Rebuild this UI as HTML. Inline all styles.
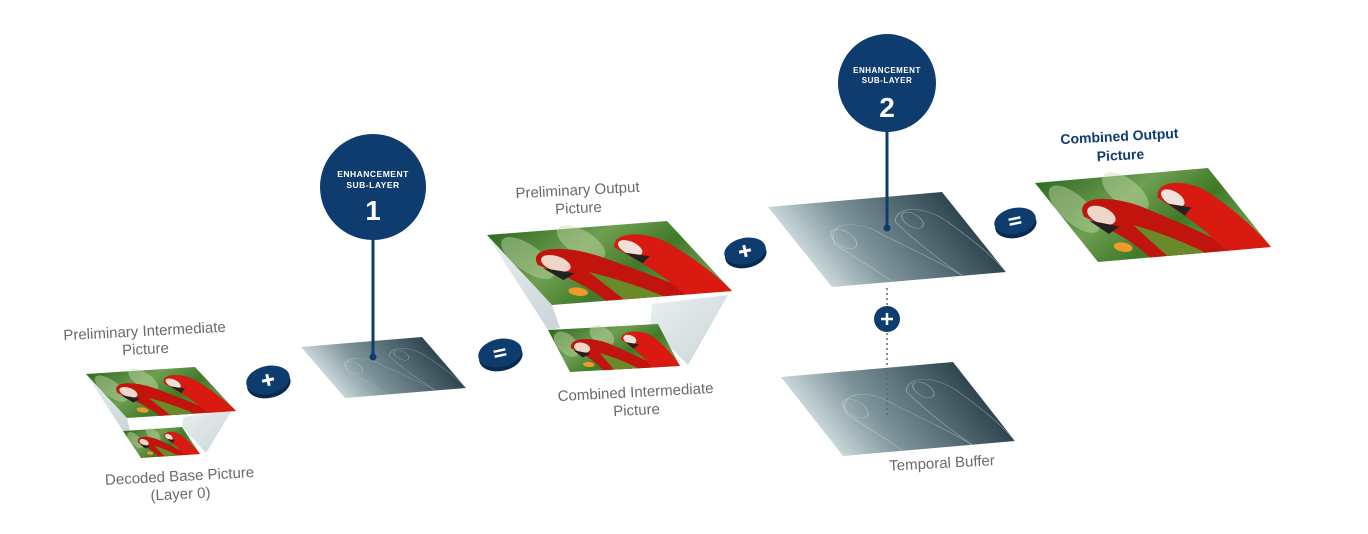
<!DOCTYPE html>
<html><head><meta charset="utf-8"><style>
html,body{margin:0;padding:0;background:#fff}
svg{display:block}
.lbl{font-family:"Liberation Sans",sans-serif;font-size:15px;fill:#6a6a6a;text-anchor:middle}
.blu{font-family:"Liberation Sans",sans-serif;font-size:14px;fill:#0e3c6e;font-weight:bold;text-anchor:middle}
.ct{font-family:"Liberation Sans",sans-serif;fill:#fff;font-weight:bold;text-anchor:middle}
</style></head><body>
<svg width="1368" height="534" viewBox="0 0 1368 534" xmlns="http://www.w3.org/2000/svg">
<defs>
<linearGradient id="bg" x1="0" y1="0" x2="1" y2="1">
<stop offset="0" stop-color="#2f6a22"/><stop offset="0.35" stop-color="#6e9f50"/><stop offset="0.6" stop-color="#3f7a28"/><stop offset="1" stop-color="#7fae5e"/>
</linearGradient>
<linearGradient id="gr" x1="0" y1="0" x2="1" y2="0">
<stop offset="0" stop-color="#c9d6d9"/><stop offset="0.35" stop-color="#7d939a"/><stop offset="1" stop-color="#2f4650"/>
</linearGradient>
<linearGradient id="face" x1="0" y1="0" x2="1" y2="1">
<stop offset="0" stop-color="#e9eff0"/><stop offset="1" stop-color="#c9d5d8"/>
</linearGradient>
<g id="parrot">
<rect x="0" y="0" width="1" height="1" fill="url(#bg)"/>
<ellipse cx="0.1" cy="0.35" rx="0.1" ry="0.3" fill="#b9d2a0" opacity="0.5"/>
<ellipse cx="0.45" cy="0.2" rx="0.1" ry="0.25" fill="#c7dcb0" opacity="0.45"/>
<ellipse cx="0.2" cy="0.85" rx="0.05" ry="0.06" fill="#f09a2a"/>
<path d="M0.12 0.45 C0.15 0.2 0.35 0.2 0.48 0.4 C0.6 0.6 0.72 0.8 0.8 1 L0.3 1 C0.28 0.8 0.22 0.65 0.12 0.45Z" fill="#c0140c"/>
<path d="M0.35 0.6 C0.45 0.7 0.55 0.85 0.62 1 L0.4 1Z" fill="#6a8a2a"/>
<ellipse cx="0.22" cy="0.45" rx="0.07" ry="0.12" fill="#eed7c8"/>
<path d="M0.13 0.5 L0.18 0.68 L0.27 0.6Z" fill="#222"/>
<path d="M0.6 0.3 C0.66 0.08 0.85 0.1 0.9 0.3 C0.96 0.5 1 0.8 1 1 L0.74 1 C0.72 0.7 0.66 0.5 0.6 0.3Z" fill="#d81a10"/>
<ellipse cx="0.68" cy="0.32" rx="0.055" ry="0.11" fill="#f0e2d8"/>
<path d="M0.63 0.38 L0.67 0.54 L0.74 0.45Z" fill="#222"/>
</g>
<g id="sketch">
<rect x="0" y="0" width="1" height="1" fill="url(#gr)"/>
<g fill="none" stroke="#dfe8ea" stroke-width="0.004" opacity="0.6">
<path d="M0.2 0.5 C0.25 0.2 0.45 0.25 0.5 0.45 C0.6 0.65 0.7 0.85 0.75 1"/>
<path d="M0.2 0.5 C0.25 0.7 0.3 0.8 0.35 1"/>
<ellipse cx="0.27" cy="0.45" rx="0.06" ry="0.12"/>
<path d="M0.62 0.3 C0.7 0.1 0.85 0.15 0.9 0.35 C0.95 0.55 1 0.8 1 1"/>
<path d="M0.62 0.3 C0.65 0.6 0.7 0.8 0.75 1"/>
<ellipse cx="0.72" cy="0.3" rx="0.05" ry="0.1"/>
</g>
</g>
</defs>

<polygon points="86,374 127,418 130,431 123,431" fill="url(#face)"/>
<polygon points="232,410 183,417 182,427 206,453" fill="url(#face)"/>
<use href="#parrot" transform="matrix(59,-4,18,27,123,431)"/>
<use href="#parrot" transform="matrix(109,-7,41,44,86,374)"/>

<polygon points="487,235 552,305 560,328 548,330" fill="url(#face)"/>
<polygon points="728,295 652,304 650,327 688,365" fill="url(#face)"/>
<use href="#parrot" transform="matrix(110,-6,22,42,548,330)"/>
<use href="#parrot" transform="matrix(180,-14,65,70,487,235)"/>

<use href="#sketch" transform="matrix(121,-10,44,51,301,347)"/>
<use href="#sketch" transform="matrix(174,-15,64,80,768,207)"/>
<use href="#sketch" transform="matrix(172,-15,62,79,781,377)"/>
<use href="#parrot" transform="matrix(173,-15,63,79,1035,183)"/>

<line x1="887" y1="288" x2="887" y2="418" stroke="#666" stroke-width="1.5" stroke-dasharray="2,3"/>

<line x1="373" y1="220" x2="373" y2="357" stroke="#0e3c6e" stroke-width="3"/>
<circle cx="373" cy="357" r="3.5" fill="#0e3c6e"/>
<circle cx="373" cy="187" r="53" fill="#0e3c6e"/>
<text class="ct" x="373" y="177" font-size="8.5" letter-spacing="0.5">ENHANCEMENT</text>
<text class="ct" x="373" y="188" font-size="8.5" letter-spacing="0.5">SUB-LAYER</text>
<text class="ct" x="373" y="220" font-size="28">1</text>

<line x1="887" y1="110" x2="887" y2="228" stroke="#0e3c6e" stroke-width="3"/>
<circle cx="887" cy="228" r="3.5" fill="#0e3c6e"/>
<circle cx="887" cy="83" r="49" fill="#0e3c6e"/>
<text class="ct" x="887" y="73" font-size="8" letter-spacing="0.5">ENHANCEMENT</text>
<text class="ct" x="887" y="83" font-size="8" letter-spacing="0.5">SUB-LAYER</text>
<text class="ct" x="887" y="117" font-size="28">2</text>

<g transform="translate(268,380) rotate(-12)">
<ellipse cx="0" cy="4" rx="22" ry="14" fill="#082a50"/><ellipse cx="0" cy="0" rx="22" ry="14" fill="#0e3c6e"/>
<path d="M-6 0 H6 M0 -6 V6" stroke="#fff" stroke-width="3"/></g>
<g transform="translate(500,353) rotate(-12)">
<ellipse cx="0" cy="4" rx="22" ry="14" fill="#082a50"/><ellipse cx="0" cy="0" rx="22" ry="14" fill="#0e3c6e"/>
<path d="M-6 -2.5 H6 M-6 2.5 H6" stroke="#fff" stroke-width="2.5"/></g>
<g transform="translate(745,251) rotate(-12)">
<ellipse cx="0" cy="4" rx="21" ry="13" fill="#082a50"/><ellipse cx="0" cy="0" rx="21" ry="13" fill="#0e3c6e"/>
<path d="M-6 0 H6 M0 -6 V6" stroke="#fff" stroke-width="3"/></g>
<g transform="translate(1015,221) rotate(-12)">
<ellipse cx="0" cy="4" rx="21" ry="13" fill="#082a50"/><ellipse cx="0" cy="0" rx="21" ry="13" fill="#0e3c6e"/>
<path d="M-6 -2.5 H6 M-6 2.5 H6" stroke="#fff" stroke-width="2.5"/></g>
<circle cx="887" cy="319" r="13" fill="#0e3c6e"/>
<path d="M881 319 H893 M887 313 V325" stroke="#fff" stroke-width="2.5"/>

<g transform="rotate(-3 145 340)"><text class="lbl" x="145" y="336">Preliminary Intermediate</text><text class="lbl" x="145" y="354">Picture</text></g>
<g transform="rotate(-3 180 484)"><text class="lbl" x="180" y="481">Decoded Base Picture</text><text class="lbl" x="180" y="499">(Layer 0)</text></g>
<g transform="rotate(-3 578 200)"><text class="lbl" x="578" y="195">Preliminary Output</text><text class="lbl" x="578" y="213">Picture</text></g>
<g transform="rotate(-3 636 400)"><text class="lbl" x="636" y="397">Combined Intermediate</text><text class="lbl" x="636" y="415">Picture</text></g>
<g transform="rotate(-3 942 463)"><text class="lbl" x="942" y="468">Temporal Buffer</text></g>
<g transform="rotate(-3 1120 147)"><text class="blu" x="1120" y="141">Combined Output</text><text class="blu" x="1120" y="160">Picture</text></g>
</svg>
</body></html>
